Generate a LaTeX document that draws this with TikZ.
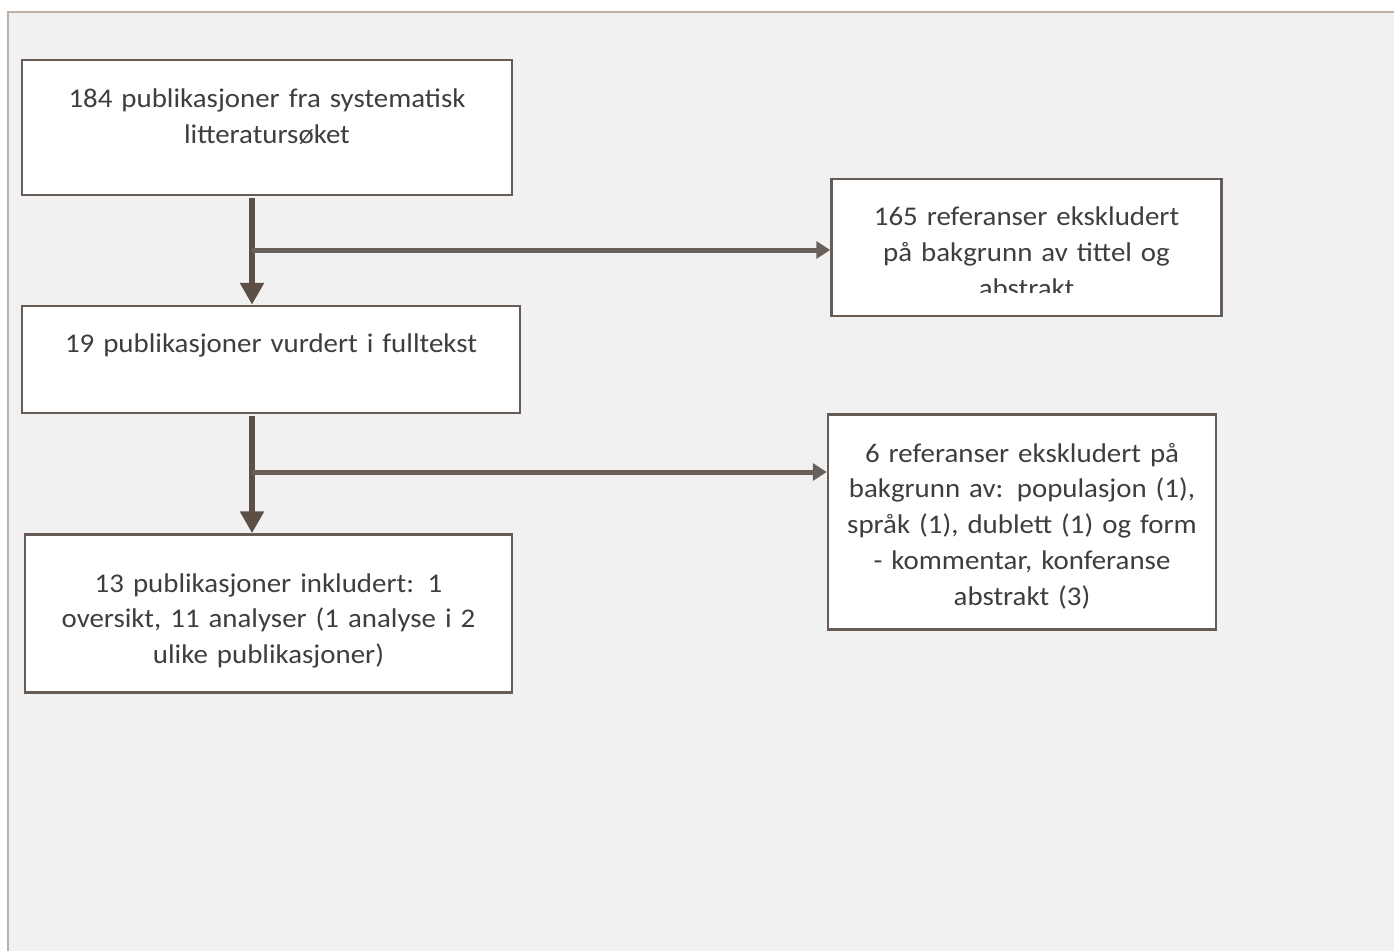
\documentclass[tikz,border=0pt]{standalone}
\usepackage{fontspec}
\setmainfont{Carlito}[FakeStretch=1.07]
\usetikzlibrary{arrows.meta,positioning}

\definecolor{panelfill}{HTML}{F1F1F1}
\definecolor{panelline}{HTML}{BDB0A5}
\definecolor{boxline}{HTML}{675C55}
\definecolor{arrowdark}{HTML}{5E4F46}
\definecolor{arrowmid}{HTML}{6A605A}
\definecolor{txtgray}{HTML}{3E3E3E}

\tikzset{
  flowbox/.style={draw=boxline, line width=2.5pt, fill=white, inner sep=0pt},
  boxtext/.style={anchor=base, align=center, text width=#1, inner sep=0pt,
    text=txtgray, font=\fontsize{27}{35.7}\selectfont},
  mainflow/.style={draw=arrowdark, line width=6pt, -{Triangle[width=23pt,length=22pt]}},
  sideflow/.style={draw=arrowmid, line width=5pt, -{Triangle[width=17pt,length=14pt]}},
}

\begin{document}
\begin{tikzpicture}[x=1pt, y=-1pt]
  \useasboundingbox (0,0) rectangle (1394,951);

  % bakgrunn
  \fill[panelfill] (8,12) rectangle (1394,951);
  \draw[panelline, line width=2pt] (8,951) -- (8,12) -- (1394,12);

  % bokser
  \node[flowbox, minimum width=490pt, minimum height=135pt] (lit) at (267,127.5) {};
  \node[flowbox, minimum width=390pt, minimum height=137pt] (excl1) at (1026.5,247.5) {};
  \node[flowbox, minimum width=498pt, minimum height=107pt] (full) at (271,359.5) {};
  \node[flowbox, minimum width=388pt, minimum height=215pt] (excl2) at (1022,522) {};
  \node[flowbox, minimum width=487pt, minimum height=158pt] (incl) at (268.5,613.5) {};

  % tekst
  \node[boxtext=470pt] (lit-t) at ([yshift=-49pt]lit.north)
    {184 publikasjoner fra systematisk\\litteratursøket};
  \begin{scope}
    \clip (excl1.north west) rectangle ([yshift=25pt]excl1.south east);
    \node[boxtext=380pt] (excl1-t) at ([yshift=-48pt]excl1.north)
      {165 referanser ekskludert\\på bakgrunn av tittel og\\abstrakt};
  \end{scope}
  \node[boxtext=480pt] (full-t) at ([yshift=-48pt]full.north)
    {19 publikasjoner vurdert i fulltekst};
  \node[boxtext=380pt] (excl2-t) at ([yshift=-49pt]excl2.north)
    {6 referanser ekskludert på\\bakgrunn av: populasjon (1),\\språk (1), dublett (1) og form\\- kommentar, konferanse\\abstrakt (3)};
  \node[boxtext=470pt] (incl-t) at ([yshift=-59pt]incl.north)
    {13 publikasjoner inkludert: 1\\oversikt, 11 analyser (1 analyse i 2\\ulike publikasjoner)};

  % piler
  \coordinate (j1) at (252,250);
  \coordinate (j2) at (252,472);
  \draw[mainflow, shorten <=2pt] (j1 |- lit.south) -- (j1 |- full.north);
  \draw[sideflow] (j1) -- (j1 -| excl1.west);
  \draw[mainflow, shorten <=2pt] (j2 |- full.south) -- (j2 |- incl.north);
  \draw[sideflow] (j2) -- (j2 -| excl2.west);
\end{tikzpicture}
\end{document}
